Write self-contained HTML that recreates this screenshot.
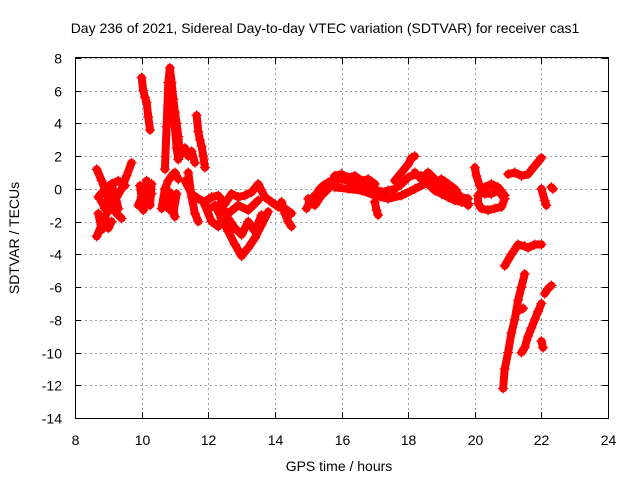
<!DOCTYPE html>
<html><head><meta charset="utf-8"><style>
body{margin:0;background:#fff;}
svg{display:block;font-family:"Liberation Sans",sans-serif;}
</style></head><body>
<svg id="chart" width="640" height="480">
<rect width="640" height="480" fill="#fff"/>
<text x="325" y="33" text-anchor="middle" font-size="14">Day 236 of 2021, Sidereal Day-to-day VTEC variation (SDTVAR) for receiver cas1</text>
<text x="339" y="471" text-anchor="middle" font-size="14">GPS time / hours</text>
<text transform="translate(19,238) rotate(-90)" text-anchor="middle" font-size="14">SDTVAR / TECUs</text>
<g id="grid"></g><g id="ticks"></g><g id="marks"></g>
<rect x="75.5" y="57.5" width="533" height="361" fill="none" stroke="#000"/>
</svg>
<script>
const xTicks=[8,10,12,14,16,18,20,22,24];
const yTicks=[8,6,4,2,0,-2,-4,-6,-8,-10,-12,-14];
const tracks=[
 {t:[8.65,8.8,8.95,9.1,9.25,9.4,9.55,9.7],v:[-2.9,-2.2,-1.5,-1,-0.5,0,0.8,1.6]},
 {t:[8.65,8.8,8.95,9.1,9.25,9.4],v:[1.2,0.5,-0.3,-1,-1.5,-1.8]},
 {t:[8.7,8.9,9.1,9.3,9.5],v:[-0.5,0,0.3,0.5,0.2]},
 {t:[8.7,8.8,8.9,9.0,9.1],v:[-1.5,-2.5,-1.8,-2.4,-2.0]},
 {t:[8.8,8.9,9.0,9.1,9.2,9.3],v:[-0.8,-1.2,-0.5,0.2,-0.3,-1.2]},
 {t:[9.9,10,10.1,10.2,10.3],v:[-1,-0.5,-0.2,-0.6,-0.3]},
 {t:[9.95,10.05,10.15,10.25,10.3],v:[0.2,-1.3,0.5,-1.0,0.3]},
 {t:[10.0,10.05,10.1,10.15,10.2,10.25],v:[6.8,6.0,5.6,5.3,4.4,3.6]},
 {t:[10.7,10.75,10.8,10.85,10.9,10.95,11.0,11.05,11.1,11.15],v:[1.2,3.8,6.5,7.4,6.5,5.5,4.7,4,3.2,2]},
 {t:[10.9,10.95,11.0,11.05,11.1],v:[6.0,5.0,3.8,2.5,1.8]},
 {t:[10.6,10.7,10.8,10.9,11.0,11.1],v:[-1.2,0,0.5,0.8,1.0,0.6]},
 {t:[10.7,10.8,10.9,11.0],v:[-0.5,-1.2,-0.8,-1.7]},
 {t:[10.85,10.95,11.05],v:[-0.2,-1.5,-0.3]},
 {t:[11.3,11.4,11.5,11.6],v:[2.5,2.0,2.3,1.6]},
 {t:[11.65,11.7,11.75,11.8,11.85,11.9],v:[4.5,3.5,3,2.6,2,1.3]},
 {t:[11.4,11.5,11.6,11.7],v:[1.0,-0.5,-1.5,-2.0]},
 {t:[11.3,11.5,11.7,11.9,12.1,12.3,12.5,12.7,12.9,13.1,13.3,13.5,13.7,13.9,14.1,14.3,14.5],v:[0.5,-0.3,-0.6,-0.8,-0.5,-0.4,-0.9,-0.3,-0.5,-0.4,-0.2,0.3,-0.5,-0.8,-1.1,-1.2,-1.5]},
 {t:[12.0,12.3,12.6,12.9,13.2,13.5],v:[-1.2,-1.0,-1.5,-1.0,-1.3,-0.7]},
 {t:[12.2,12.4,12.6,12.8,13.0,13.2,13.4,13.6,13.8],v:[-1,-1.8,-2.6,-3.4,-4.1,-3.6,-3,-2.2,-1.4]},
 {t:[12.6,12.8,13.0,13.2,13.4,13.6],v:[-1.8,-2.4,-2.8,-2.0,-2.6,-1.6]},
 {t:[11.9,12.1,12.3,12.5,12.7],v:[-1,-2,-2.3,-1.5,-2.5]},
 {t:[14.2,14.3,14.4,14.5],v:[-0.8,-1.5,-2,-2.3]},
 {t:[14.95,15.05,15.15,15.25,15.35,15.45,15.6,15.8,16,16.2,16.4,16.6,16.8,17,17.2,17.4,17.6,17.8,18,18.2,18.4,18.6,18.8,19,19.2,19.4,19.6,19.8],v:[-1.2,-0.8,-0.5,-0.3,0,0.2,0.4,0.5,0.6,0.5,0.4,0.3,0.2,0,-0.2,-0.1,0,0.3,0.7,0.9,0.8,0.3,-0.1,-0.3,-0.5,-0.7,-0.8,-0.9]},
 {t:[15.0,15.2,15.4,15.6,15.8,16.0,16.2,16.4,16.6,16.8,17.0],v:[-0.6,-1.0,-0.4,0.0,0.8,0.9,0.7,0.8,0.5,0.6,0.3]},
 {t:[15.8,16.2,16.6,17.0,17.4,17.8,18.2,18.6,19.0],v:[0.1,0,-0.1,-0.4,-0.6,-0.4,0,0.4,0.5]},
 {t:[17.0,17.05,17.1],v:[-0.8,-1.3,-1.6]},
 {t:[17.6,17.8,18.0,18.1,18.2],v:[0.5,1,1.5,1.9,2.0]},
 {t:[18.2,18.4,18.6,18.8],v:[1.0,0.6,1.0,0.6]},
 {t:[18.8,19.0,19.2,19.4,19.6,19.8],v:[0.5,0.2,-0.1,-0.3,-0.5,-0.6]},
 {t:[19.0,19.2,19.4,19.6,19.8],v:[0.6,0.3,0,-0.6,-1.0]},
 {t:[20.0,20.05,20.15,20.3,20.5,20.7,20.9,20.8,20.6,20.4,20.2,20.1,20.1,20.3,20.5,20.7,20.9],v:[1.3,0.8,0.2,-0.3,-0.3,-0.1,-0.6,-1.1,-1.2,-1.3,-1.2,-0.9,-0.4,0.1,0.3,0.1,-0.4]},
 {t:[21.0,21.2,21.4,21.6,21.8,22.0],v:[0.9,1.0,0.8,0.9,1.4,1.9]},
 {t:[22.0,22.1,22.15],v:[0.0,-0.7,-1.0]},
 {t:[22.3,22.35],v:[0.1,0.0]},
 {t:[20.9,21.1,21.3,21.5,21.6,21.8,22.0],v:[-4.7,-4.0,-3.4,-3.5,-3.6,-3.4,-3.4]},
 {t:[20.85,20.9,21.0,21.1,21.2,21.3,21.4,21.5],v:[-12.2,-11,-10,-8.8,-8,-6.8,-6,-5.2]},
 {t:[21.35,21.45],v:[-7.4,-7.3]},
 {t:[21.4,21.5,21.6,21.7,21.8,21.9,22.0],v:[-10,-9.7,-9,-8.5,-8,-7.5,-7]},
 {t:[22.0,22.05],v:[-9.3,-9.7]},
 {t:[22.1,22.2,22.3],v:[-6.4,-6.1,-5.9]}
];
const NS='http://www.w3.org/2000/svg';
const X0=75,X1=608,Y0=418,Y1=58;
function sx(t){return X0+(t-8)/16*(X1-X0);}
function sy(v){return Y0-(v+14)/22*(Y0-Y1);}
const grid=document.getElementById('grid'),ticks=document.getElementById('ticks'),marks=document.getElementById('marks');
function mk(tag,a,p){const e=document.createElementNS(NS,tag);for(const k in a)e.setAttribute(k,a[k]);p.appendChild(e);return e;}
xTicks.forEach(t=>{const x=Math.round(sx(t))+0.5;
 const g=mk('line',{x1:x,x2:x,y1:Y1,y2:Y0,stroke:'#a0a0a0','stroke-dasharray':'2,3'},grid);
 
 
 mk('line',{x1:x,x2:x,y1:Y0,y2:Y0-6,stroke:'#000'},ticks);
 mk('line',{x1:x,x2:x,y1:Y1,y2:Y1+6,stroke:'#000'},ticks);
 const l=mk('text',{x:x,y:445,'text-anchor':'middle','font-size':14},ticks);l.textContent=t;
 
 });
yTicks.forEach(v=>{const y=Math.round(sy(v))+0.5;
 const g=mk('line',{x1:X0,x2:X1,y1:y,y2:y,stroke:'#a0a0a0','stroke-dasharray':'2,3'},grid);
 
 
 mk('line',{x1:X0,x2:X0+6,y1:y,y2:y,stroke:'#000'},ticks);
 mk('line',{x1:X1,x2:X1-6,y1:y,y2:y,stroke:'#000'},ticks);
 const l=mk('text',{x:62,y:y+5,'text-anchor':'end','font-size':14},ticks);l.textContent=v;
 
 });
tracks.forEach(tr=>{
 const pts=tr.t.map((t,i)=>sx(t).toFixed(1)+','+sy(tr.v[i]).toFixed(1)).join(' ');
 const pl=mk('polyline',{points:pts,fill:'none',stroke:'#f00','stroke-width':8,'stroke-linejoin':'round','stroke-linecap':'round'},marks);
 
 
 tr.t.forEach((t,i)=>{const x=sx(t),y=sy(tr.v[i]);
  const p=mk('path',{d:`M${x-5},${y}H${x+5}M${x},${y-5}V${y+5}`,stroke:'#f00','stroke-width':1.2},marks);
  
  });
});
</script>
</body></html>
